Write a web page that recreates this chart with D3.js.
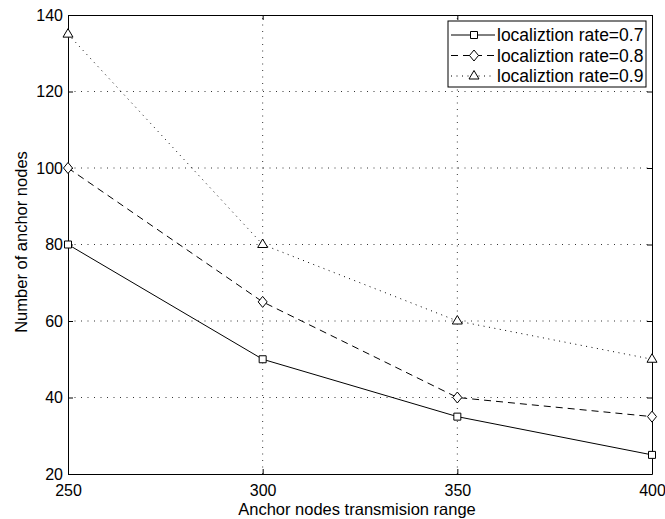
<!DOCTYPE html>
<html>
<head>
<meta charset="utf-8">
<script src="https://cdn.jsdelivr.net/npm/d3@7"></script>
<style>
  body { margin: 0; background: #fff; }
  text { font-family: "Liberation Sans", Arial, sans-serif; fill: #000; }
</style>
</head>
<body>
<script>
const ranges = [250, 300, 350, 400]
const rate07 = [80, 50, 35, 25]
const rate08 = [100, 65, 40, 35]
const rate09 = [135, 80, 60, 50]
const seriesNames = ["localiztion rate=0.7", "localiztion rate=0.8", "localiztion rate=0.9"]
const xTicks = [250, 300, 350, 400]
const yTicks = [20, 40, 60, 80, 100, 120, 140]

const W = 665, H = 519
const m = { left: 68, right: 13, top: 15, bottom: 45 }

const svg = d3.select("body").append("svg")
              .attr("width", W).attr("height", H)

const x = d3.scaleLinear().domain([250, 400]).range([m.left, W - m.right])
const y = d3.scaleLinear().domain([20, 140]).range([H - m.bottom, m.top])

// grid
const grid = svg.append("g")
               .attr("stroke", "#000")
               .attr("stroke-width", 0.8)
               .attr("stroke-dasharray", "1,5.5")
grid.selectAll("line.gx").data(xTicks.slice(1, -1)).join("line")
    .attr("x1", d => x(d)).attr("x2", d => x(d))
    .attr("y1", y(20)).attr("y2", y(140))
grid.selectAll("line.gy").data(yTicks.slice(1, -1)).join("line")
    .attr("x1", x(250)).attr("x2", x(400))
    .attr("y1", d => y(d)).attr("y2", d => y(d))

// axes (ticks inward, MATLAB style)
const axB = svg.append("g").attr("transform", `translate(0,${y(20)})`)
   .call(d3.axisBottom(x).tickValues(xTicks).tickSizeInner(-5).tickSizeOuter(0).tickPadding(11))
const axT = svg.append("g").attr("transform", `translate(0,${y(140)})`)
   .call(d3.axisTop(x).tickValues(xTicks).tickSizeInner(-5).tickSizeOuter(0).tickFormat(""))
const axL = svg.append("g").attr("transform", `translate(${x(250)},0)`)
   .call(d3.axisLeft(y).tickValues(yTicks).tickSizeInner(-5).tickSizeOuter(0).tickPadding(5))
const axR = svg.append("g").attr("transform", `translate(${x(400)},0)`)
   .call(d3.axisRight(y).tickValues(yTicks).tickSizeInner(-5).tickSizeOuter(0).tickFormat(""))
for (const a of [axB, axT, axL, axR]) {
  a.selectAll(".domain").attr("stroke", "#000").attr("stroke-width", 1)
  a.selectAll(".tick line").attr("stroke", "#000")
  a.selectAll("text").attr("font-size", 16).attr("font-family", "Liberation Sans, Arial, sans-serif")
}

// axis labels
svg.append("text").attr("x", 357).attr("y", 515)
   .attr("text-anchor", "middle").attr("font-size", 16.5)
   .text("Anchor nodes transmision range")
svg.append("text").attr("transform", `translate(27,242) rotate(-90)`)
   .attr("text-anchor", "middle").attr("font-size", 16.5)
   .text("Number of anchor nodes")

// series
const series = [
  { vals: rate07, dash: null, marker: "square" },
  { vals: rate08, dash: "7,5", marker: "diamond" },
  { vals: rate09, dash: "1,4.5", marker: "triangle" }
]

const markerPath = {
  square: "M-3.5,-3.5H3.5V3.5H-3.5Z",
  diamond: "M0,-5.5L4.5,0L0,5.5L-4.5,0Z",
  triangle: "M0,-5.5L5,3H-5Z"
}

const line = d3.line().x(d => x(d[0])).y(d => y(d[1]))

series.forEach(s => {
  const pts = ranges.map((r, i) => [r, s.vals[i]])
  svg.append("path").datum(pts)
     .attr("d", line).attr("fill", "none")
     .attr("stroke", "#000").attr("stroke-width", 1)
     .attr("stroke-dasharray", s.dash)
  svg.append("g").selectAll("path").data(pts).join("path")
     .attr("transform", d => `translate(${x(d[0])},${y(d[1])})`)
     .attr("d", markerPath[s.marker])
     .attr("fill", "#fff").attr("stroke", "#000").attr("stroke-width", 1)
})

// legend
const lg = svg.append("g").attr("transform", "translate(448,21)")
lg.append("rect").attr("width", 198).attr("height", 66)
  .attr("fill", "#fff").attr("stroke", "#000").attr("stroke-width", 1)
series.forEach((s, i) => {
  const cy = 14 + i * 20.5
  lg.append("line").attr("x1", 3).attr("x2", 47).attr("y1", cy).attr("y2", cy)
    .attr("stroke", "#000").attr("stroke-dasharray", s.dash)
  lg.append("path").attr("transform", `translate(26,${cy})`)
    .attr("d", markerPath[s.marker]).attr("fill", "#fff").attr("stroke", "#000")
  lg.append("text").attr("x", 49).attr("y", cy + 6)
    .attr("font-size", 17.5).text(seriesNames[i])
})
</script>
</body>
</html>
